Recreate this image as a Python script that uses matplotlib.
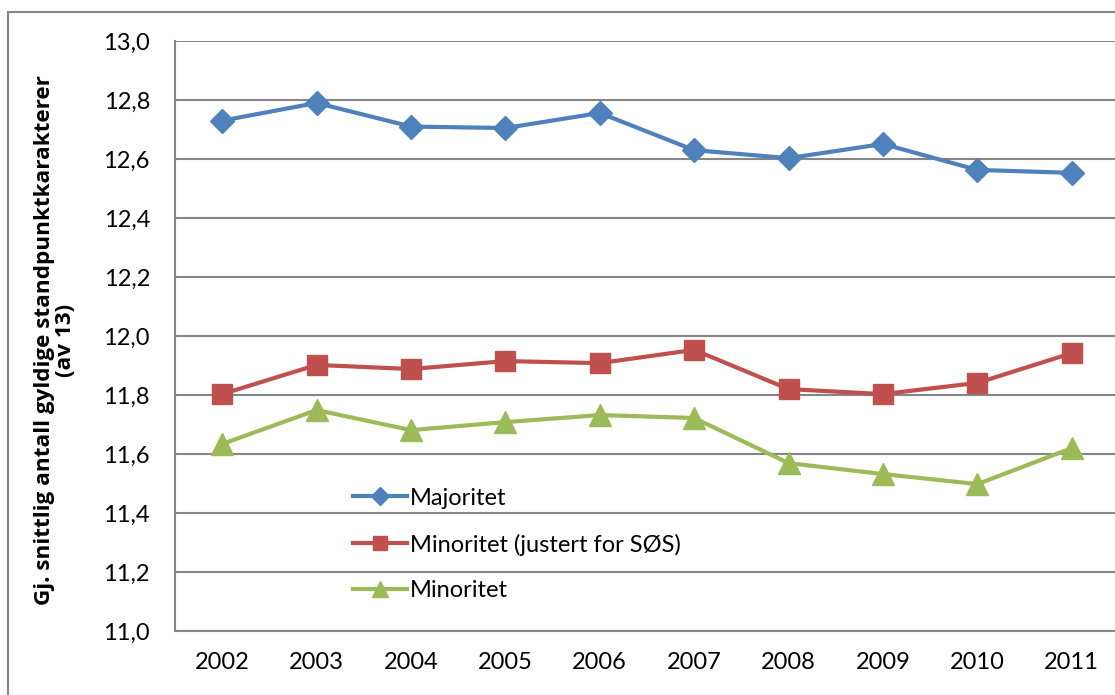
import matplotlib.pyplot as plt
from matplotlib.patches import Rectangle

years = ['2002', '2003', '2004', '2005', '2006', '2007', '2008', '2009', '2010', '2011']
majoritet = [12.73, 12.79, 12.71, 12.705, 12.756, 12.63, 12.603, 12.651, 12.563, 12.553]
minoritet_sos = [11.803, 11.902, 11.888, 11.915, 11.908, 11.953, 11.82, 11.803, 11.841, 11.942]
minoritet = [11.634, 11.749, 11.681, 11.708, 11.732, 11.722, 11.569, 11.532, 11.498, 11.62]

plt.rcParams['font.family'] = ['Lato', 'DejaVu Sans']

fig = plt.figure(figsize=(11.15, 6.95), dpi=100)
ax = fig.add_axes([175 / 1115, 64 / 695, 944 / 1115, 590 / 695])

# outer chart frame
fig.patches.append(Rectangle((8 / 1115, -0.1), 2, 1.1 - 12 / 695,
                             transform=fig.transFigure, fill=False,
                             edgecolor='#868686', linewidth=1.5))

x = range(len(years))
ax.plot(x, majoritet, color='#4F81BD', lw=3, marker='D', ms=12, label='Majoritet')
ax.plot(x, minoritet_sos, color='#C0504D', lw=3, marker='s', ms=14,
        label='Minoritet (justert for SØS)')
ax.plot(x, minoritet, color='#9BBB59', lw=3, marker='^', ms=16, label='Minoritet')

ax.set_xlim(-0.5, len(years) - 0.5)
ax.set_ylim(11.0, 13.0)
ax.set_yticks([11.0 + 0.2 * i for i in range(11)])
ax.set_yticklabels([f'{11.0 + 0.2 * i:.1f}'.replace('.', ',') for i in range(11)])
ax.set_xticks(list(x))
ax.set_xticklabels(years)
ax.tick_params(length=0, labelsize=17, pad=18)
ax.tick_params(axis='x', pad=15)

ax.grid(axis='y', color='#868686', lw=1.5)
ax.set_axisbelow(True)
for side in ['top', 'right']:
    ax.spines[side].set_visible(False)
for side in ['left', 'bottom']:
    ax.spines[side].set_color('#868686')
    ax.spines[side].set_linewidth(1.5)

fig.text(55 / 1115, 0.51, 'Gj. snittlig antall gyldige standpunktkarakterer\n(av 13)',
         rotation=90, ha='center', va='center', fontsize=16.2, fontweight='bold',
         family=['Open Sans', 'DejaVu Sans'], multialignment='center',
         linespacing=0.98)

ax.legend(loc='upper left', bbox_to_anchor=(0.166, 0.279), frameon=False,
          fontsize=17, handlelength=2.3, handletextpad=0.1, labelspacing=1.05,
          markerscale=0.75)

fig.savefig('out.png', dpi=100)
